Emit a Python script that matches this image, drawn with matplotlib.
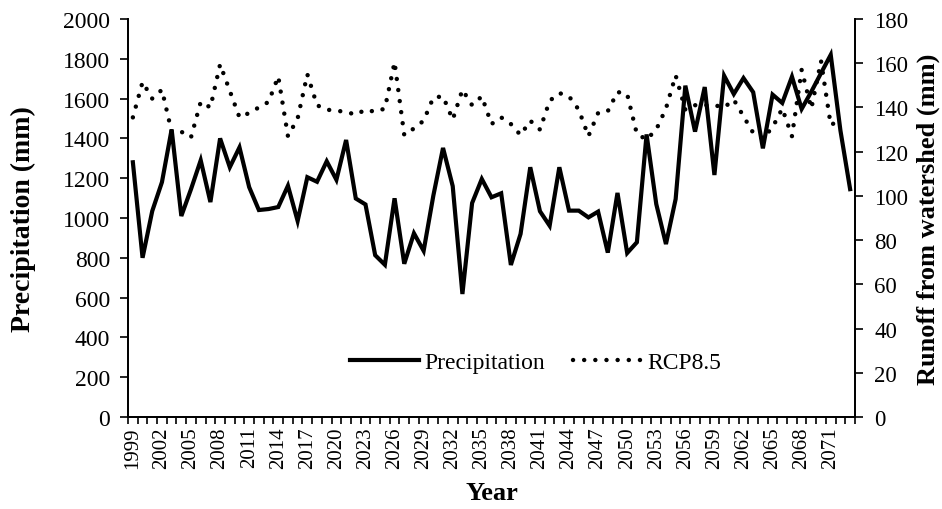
import matplotlib
matplotlib.use("Agg")
import matplotlib.pyplot as plt
import numpy as np

plt.rcParams['font.family'] = ['Liberation Serif', 'DejaVu Serif']

# data
years = list(range(1999, 2074))

precipitation = [1280, 800, 1035, 1180, 1445, 1010, 1145, 1290, 1080, 1400,
                 1255, 1355, 1155, 1040, 1045, 1055, 1162, 985, 1205, 1182,
                 1285, 1192, 1392, 1098, 1068, 813, 765, 1099, 770, 923,
                 835, 1112, 1352, 1160, 618, 1075, 1196, 1104, 1124, 764,
                 920, 1255, 1034, 961, 1255, 1037, 1037, 1003, 1032, 826,
                 1126, 824, 878, 1420, 1070, 869, 1095, 1665, 1434, 1658,
                 1216, 1715, 1623, 1703, 1632, 1350, 1620, 1578, 1710, 1548,
                 1635, 1728, 1820, 1440, 1145]

rcp85 = [135.5, 151.5, 144, 148, 129, 129, 126.5, 142.5, 140, 159.5,
         147.5, 135.5, 137.5, 140, 142.5, 154, 127, 135, 155, 141,
         139, 138.5, 138, 136.7, 139, 138, 139.5, 160.5, 127.5, 130.5,
         134, 144.5, 145, 134.5, 148, 141, 145, 132.5, 135.5, 132.5,
         127.5, 134, 130, 143, 146.5, 145, 139, 127, 137.5, 138.3,
         147, 146, 128, 125.5, 130, 139.5, 154.5, 139, 141, 141,
         141, 140, 143.5, 136, 128.5, 126, 131, 139.5, 127, 157,
         139.5, 161, 132, 134.5, np.nan]

label_step = 3

fig = plt.figure(figsize=(9.42, 5.10), dpi=100)
ax = fig.add_axes([0.1359, 0.1804, 0.7717, 0.7804])
ax2 = ax.twinx()

x = np.arange(len(years))
l1, = ax.plot(x, precipitation, color='black', lw=3.0, solid_joinstyle='miter',
              label='Precipitation')
l2, = ax2.plot(x, rcp85, color='black', lw=3.2, linestyle=(0, (0.01, 2.5)),
               dash_capstyle='round', label='RCP8.5')

ax.set_xlim(-0.5, len(years) - 0.5)
ax.set_ylim(0, 2000)
ax.set_yticks(np.arange(0, 2001, 200))
ax2.set_ylim(0, 180)
ax2.set_yticks(np.arange(0, 181, 20))

# category axis: tick marks between categories, labels every 3rd year
ax.set_xticks(np.arange(-0.5, len(years), 1.0))
ax.set_xticklabels([])
ax.set_xticks(x[::label_step], minor=True)
ax.set_xticklabels([str(y) for y in years[::label_step]], minor=True, rotation=90)
ax.tick_params(axis='x', which='major', length=5, width=1.2, direction='out')
ax.tick_params(axis='x', which='minor', length=0, pad=7, labelsize=15)
ax.tick_params(axis='y', length=6, width=1.2, pad=7, labelsize=17)
ax2.tick_params(axis='y', length=6, width=1.2, pad=8, labelsize=16.5)

for a in (ax, ax2):
    a.spines['top'].set_visible(False)
    for s in ('left', 'right', 'bottom'):
        a.spines[s].set_linewidth(1.3)

ax.set_xlabel('Year', fontsize=19, fontweight='bold', labelpad=9)
ax.set_ylabel('Precipitation (mm)', fontsize=20, fontweight='bold', labelpad=19)
ax2.set_ylabel('Runoff from watershed (mm)', fontsize=19, fontweight='bold', labelpad=6)

ax2.legend([l1, l2], ['Precipitation', 'RCP8.5'], loc='center',
           bbox_to_anchor=(0.561, 0.137), ncol=2, frameon=False, fontsize=17,
           handlelength=2.9, columnspacing=1.2, handletextpad=0.25)

fig.savefig('out.png', dpi=100)
